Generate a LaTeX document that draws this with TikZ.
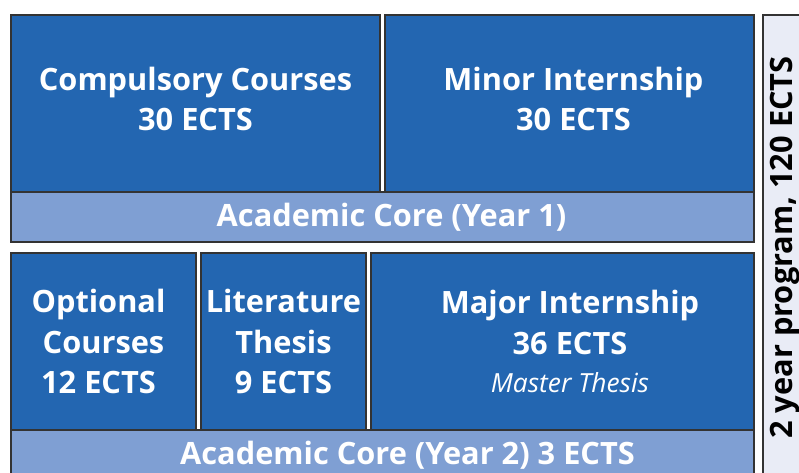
\documentclass[tikz,border=0pt]{standalone}
\usepackage{fontspec}
\setsansfont{Open Sans}
\usetikzlibrary{positioning}

\definecolor{coreblue}{HTML}{2366B1}
\definecolor{barblue}{HTML}{7F9FD3}
\definecolor{progfill}{HTML}{E9ECF6}
\definecolor{edgegray}{HTML}{333333}

\tikzset{
  block/.style={draw=edgegray, line width=0.9pt, fill=coreblue, text=white,
    anchor=north west, outer sep=0pt, inner sep=0pt, align=center,
    font=\sffamily\bfseries\fontsize{17.5}{23.3}\selectfont},
  corebar/.style={block, fill=barblue, minimum width=14.86cm, minimum height=1cm},
}

\begin{document}
\begin{tikzpicture}[x=0.2mm, y=-0.2mm]

  \useasboundingbox (0,0) rectangle (799,473);
  \clip (0,0) rectangle (799,473);

  % ===== YEAR 1 =====
  \node[block, minimum width=7.38cm, minimum height=3.54cm] (comp) at (11,15)
    {Compulsory Courses\\30 ECTS\\[-18pt]};
  \node[block, minimum width=7.38cm, minimum height=3.54cm] (minor) at (385,15)
    {\hspace*{0.16cm}Minor Internship\\\hspace*{0.16cm}30 ECTS\\[-18pt]};
  \node[corebar] (core1) at (11,192) {\hspace*{0.36cm}Academic Core (Year 1)};

  % ===== YEAR 2 =====
  \node[block, minimum width=3.7cm, minimum height=3.54cm] (optional) at (11,253)
    {Optional\hspace*{0.2cm}\\Courses\hspace*{0.2cm}\\12 ECTS\hspace*{0.2cm}};
  \node[block, minimum width=3.3cm, minimum height=3.54cm] (lit) at (201,253)
    {Literature\\Thesis\\9 ECTS};
  \node[block, minimum width=7.66cm, minimum height=3.54cm] (major) at (371,253)
    {\hspace*{0.3cm}Major Internship\\\hspace*{0.3cm}36 ECTS\\[-2pt]%
     {\mdseries\itshape\fontsize{15}{19}\selectfont\hspace*{0.3cm}Master Thesis}};
  \node[corebar] (core2) at (11,430) {\hspace*{1cm}Academic Core (Year 2) 3 ECTS};

  % Programma totaal
  \node[block, fill=progfill, text=black, minimum width=0.9cm, minimum height=9.3cm] (prog) at (763,15) {};
  \node[rotate=90, font=\sffamily\bfseries\fontsize{17.5}{20}\selectfont] (progtxt) at (prog.center)
    {2 year program, 120 ECTS};

\end{tikzpicture}
\end{document}
